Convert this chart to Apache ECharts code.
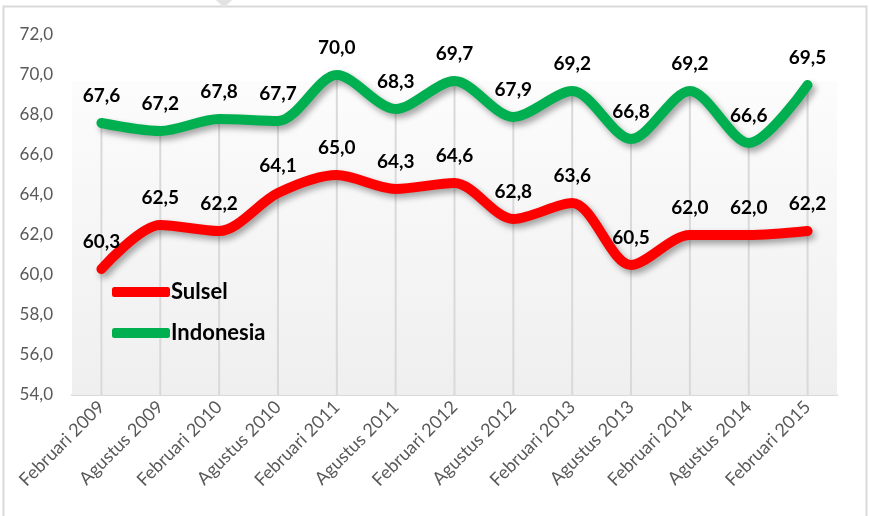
<!DOCTYPE html>
<html lang="en">
  <head>
    <meta charset="UTF-8" />
    <title>Sulsel vs Indonesia</title>
    <style>
      html, body { margin: 0; padding: 0; background: #ffffff; }
    </style>
  </head>
  <body>
    <div id="main" style="width: 869px; height: 516px"></div>

    <script src="https://cdn.jsdelivr.net/npm/echarts@6/dist/echarts.min.js"></script>
    <script>
      var myChart = echarts.init(document.getElementById("main"));

      // data
      var periods = [
        "Februari 2009", "Agustus 2009", "Februari 2010", "Agustus 2010",
        "Februari 2011", "Agustus 2011", "Februari 2012", "Agustus 2012",
        "Februari 2013", "Agustus 2013", "Februari 2014", "Agustus 2014",
        "Februari 2015",
      ];
      var sulsel = [60.3, 62.5, 62.2, 64.1, 65.0, 64.3, 64.6, 62.8, 63.6, 60.5, 62.0, 62.0, 62.2];
      var indonesia = [67.6, 67.2, 67.8, 67.7, 70.0, 68.3, 69.7, 67.9, 69.2, 66.8, 69.2, 66.6, 69.5];

      var fmt = function (v) {
        return Number(v).toFixed(1).replace(".", ",");
      };

      var lineLabel = {
        show: true,
        position: "top",
        distance: 17,
        fontFamily: "Lato",
        fontWeight: "bold",
        fontSize: 19,
        color: "#000",
        formatter: function (p) {
          return fmt(p.value);
        },
      };

      var lineShadow = {
        shadowColor: "rgba(0,0,0,0.35)",
        shadowBlur: 6,
        shadowOffsetX: 3,
        shadowOffsetY: 4,
      };

      var option = {
        backgroundColor: "#ffffff",
        animation: false,
        graphic: [
          {
            type: "rect",
            shape: { x: 3.5, y: 6.5, width: 863, height: 530 },
            style: { fill: "none", stroke: "#d9d9d9", lineWidth: 2 },
            z: -10,
          },
          {
            type: "polygon",
            shape: { points: [[216, 0], [232, 0], [224, 8]] },
            style: { fill: "#e3e3e3" },
            z: -9,
          },
        ],
        grid: { left: 72, right: 32, top: 35, bottom: 121 },
        legend: {
          orient: "vertical",
          left: 107,
          top: 276,
          itemGap: 19,
          itemWidth: 58,
          itemHeight: 10,
          icon: "roundRect",
          data: ["Sulsel", "Indonesia"],
          textStyle: {
            fontFamily: "Lato",
            fontWeight: "bold",
            fontSize: 22,
            color: "#000",
            padding: [0, 0, 0, -4],
          },
        },
        xAxis: {
          type: "category",
          data: periods,
          axisLine: { lineStyle: { color: "#d9d9d9", width: 2 } },
          axisTick: { show: false },
          axisLabel: {
            rotate: 45,
            margin: 9,
            fontFamily: "Lato",
            fontSize: 18,
            color: "#595959",
            interval: 0,
            hideOverlap: false,
          },
        },
        yAxis: {
          type: "value",
          min: 54,
          max: 72,
          interval: 2,
          axisLine: { show: false },
          axisTick: { show: false },
          splitLine: { show: false },
          axisLabel: {
            margin: 19,
            fontFamily: "Lato",
            fontSize: 17,
            color: "#595959",
            formatter: fmt,
          },
        },
        series: [
          {
            // drop lines from the upper series down to the axis
            name: "drop",
            type: "bar",
            data: indonesia,
            barWidth: 2,
            silent: true,
            itemStyle: { color: "#d9d9d9" },
            z: 1,
            markArea: {
              silent: true,
              itemStyle: {
                color: new echarts.graphic.LinearGradient(0, 0, 0, 1, [
                  { offset: 0, color: "#fcfcfc" },
                  { offset: 1, color: "#efefef" },
                ]),
              },
              data: [[{ yAxis: 69.7 }, { yAxis: 54 }]],
            },
          },
          {
            name: "Sulsel",
            type: "line",
            data: sulsel,
            smooth: 0.3,
            symbol: "circle",
            symbolSize: 1,
            itemStyle: { color: "#ff0000" },
            lineStyle: Object.assign({ width: 10, color: "#ff0000", cap: "round" }, lineShadow),
            label: lineLabel,
            z: 3,
          },
          {
            name: "Indonesia",
            type: "line",
            data: indonesia,
            smooth: 0.3,
            symbol: "circle",
            symbolSize: 1,
            itemStyle: { color: "#00b050" },
            lineStyle: Object.assign({ width: 10, color: "#00b050", cap: "round" }, lineShadow),
            label: lineLabel,
            z: 3,
          },
        ],
      };
      myChart.setOption(option);
    </script>
  </body>
</html>
